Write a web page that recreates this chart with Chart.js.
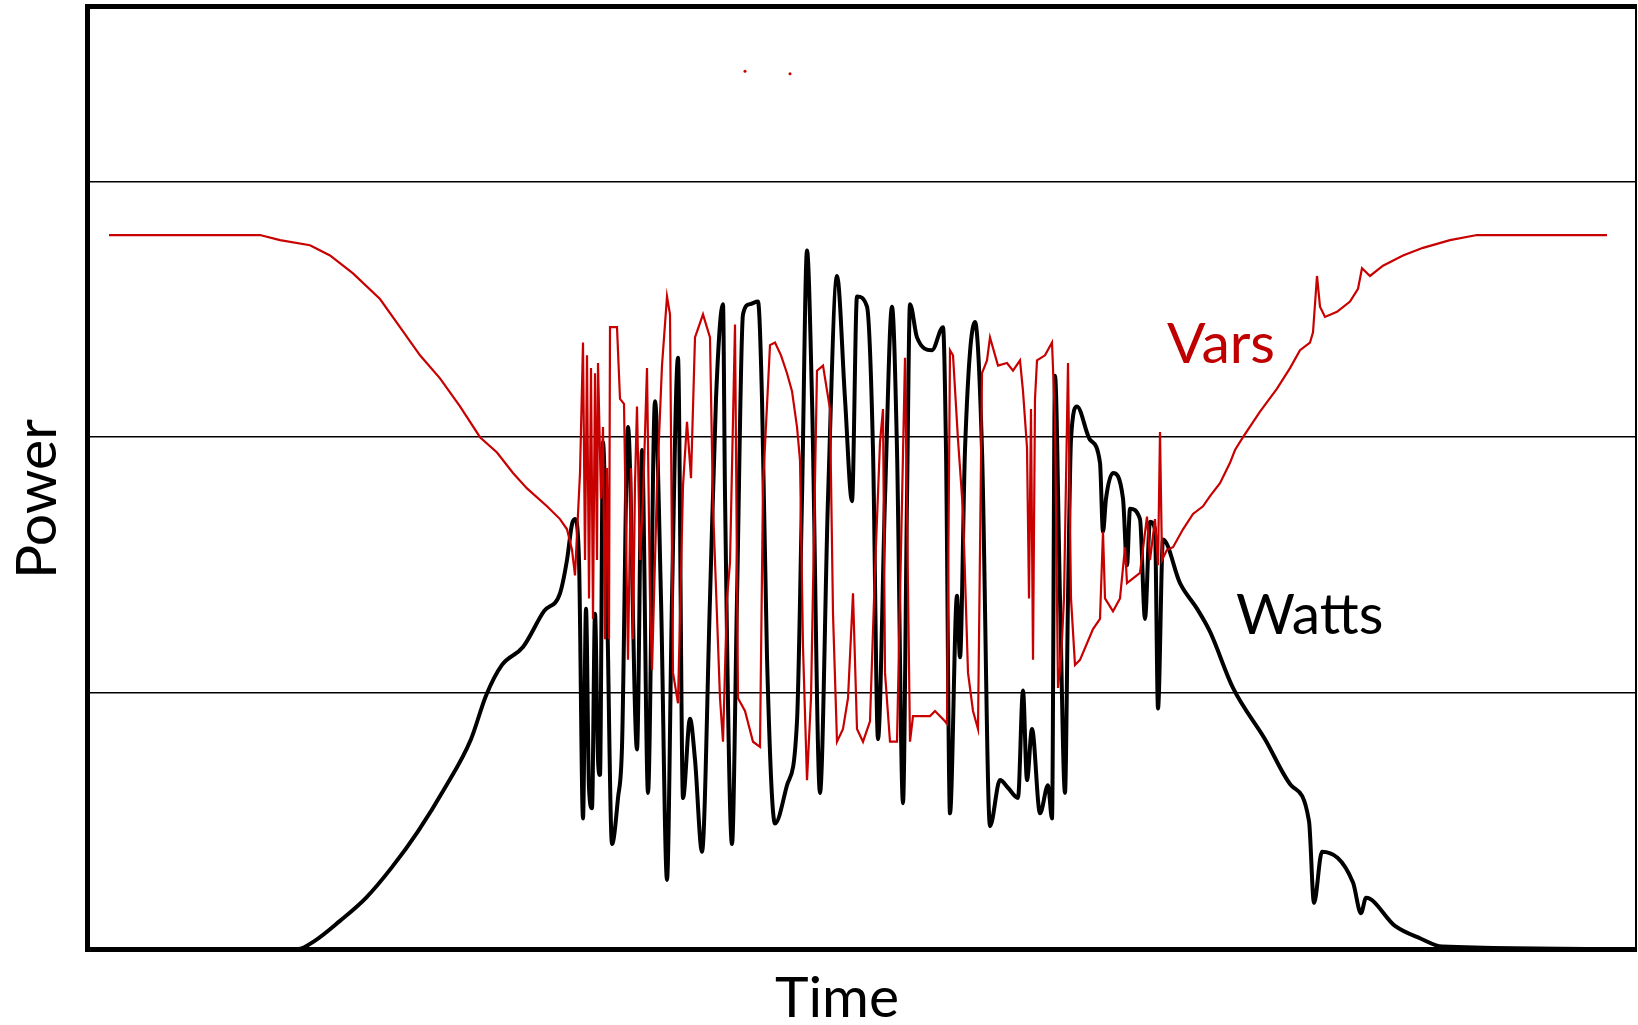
<!DOCTYPE html>
<html lang="en">
<head>
  <meta charset="UTF-8">
  <title>Power vs Time</title>
  <style>
    html, body {
      margin: 0;
      padding: 0;
      background: #fff;
    }
    #wrap {
      width: 1638px;
      height: 1025px;
      position: relative;
    }
  </style>
</head>
<body>

  <div id="wrap"><canvas id="chartCanvas"></canvas></div>

  <script src="https://cdn.jsdelivr.net/npm/chart.js@4"></script>

  <script>
    // Watts (black)
    const wattsTime = [
      0,211,227,253,279,305,331,358,384,399,415,436,457,473,480,485,488,492,
      496,499,502,505,508,511,513,516,520,525,531,535,541,550,555,561,568,574,580,585,591,596,603,608,615,623,629,636,638,645,650,656,663,671,675,680,688,700,710,715,720,725,733,741,750,758,765,770,780,786,791,798,805,810,816,820,823,830,845,856,859,863,870,873,878,888,895,903,913,921,931,936,940,945,953,961,965,
      968,973,978,981,984,990,1003,1013,1016,1019,1026,1036,1040,1043,1053,1058,1063,1068,1071,1076,1093,1110,1123,1146,1178,1204,1222,1227,1235,1266,1274,1279,1308,1334,1355,1549
    ];
    const wattsPower = [
      0,0,0.03,0.11,0.20,0.32,0.46,0.63,0.82,0.99,1.11,1.18,1.32,1.39,1.52,1.66,1.68,1.52,
      0.51,1.33,0.63,0.55,1.31,0.74,0.68,1.98,1.37,0.41,0.59,0.79,2.04,0.78,1.95,0.61,2.14,1.37,0.27,1.37,2.31,0.59,0.90,0.74,0.38,1.37,2.15,2.52,1.78,0.41,1.37,2.48,2.52,2.53,2.15,1.14,0.49,0.64,0.89,1.76,2.73,2.15,0.61,1.76,2.63,2.15,1.75,2.55,2.51,1.95,0.82,1.76,2.51,1.95,0.57,1.76,2.52,2.39,2.34,2.43,1.95,0.53,1.38,1.14,1.95,2.45,1.95,0.48,0.66,0.63,0.59,1.01,0.66,0.86,0.53,0.64,0.51,
      2.24,1.37,0.61,1.37,1.99,2.12,1.99,1.90,1.63,1.76,1.86,1.76,1.50,1.72,1.68,1.29,1.67,1.64,0.94,1.60,1.43,1.33,1.24,1.02,0.82,0.64,0.50,0.18,0.38,0.26,0.14,0.20,0.09,0.04,0.01,0
    ];

    // Vars (red)
    const varsTime = [
      22,151,173,193,223,243,266,293,313,333,353,373,393,410,426,440,460,473,480,485,488,
      493,496,498,500,502,504,506,508,510,511,514,516,518,520,522,523,530,533,537,541,544,546,548,550,553,556,560,563,565,568,570,575,580,583,
      586,591,596,600,604,608,616,623,626,633,636,640,643,648,651,658,666,673,676,683,688,694,700,705,710,713,716,720,724,730,736,743,746,750,756,761,766,770,776,783,788,793,796,798,803,810,818,823,826,843,848,858,860,863,866,871,873,876,881,886,891,895,900,903,911,
      920,926,933,936,940,942,944,946,948,950,958,965,968,971,974,977,981,984,988,993,1006,1013,1016,1018,1026,1033,1038,1040,1053,1060,1063,1068,1071,1073,1075,1080,
      1086,1096,1106,1116,1123,1133,1143,1148,1156,1173,1190,1203,1213,1223,1226,1230,1233,1238,1250,1263,1271,1275,1283,1296,1316,1336,1363,1390,1520
    ];
    const varsPower = [
      2.79,2.79,2.79,2.77,2.75,2.71,2.64,2.54,2.43,2.32,2.23,2.12,2.00,1.94,1.86,1.80,1.73,1.68,1.64,1.56,1.46,
      1.86,2.37,1.52,2.32,1.37,2.27,1.29,2.25,1.52,2.29,1.76,2.04,1.21,1.88,1.21,2.43,2.43,2.15,2.13,1.13,1.88,1.21,1.82,2.12,1.52,1.76,2.27,1.37,1.09,1.52,1.81,2.28,2.55,2.48,
      1.08,0.96,1.81,2.06,1.84,2.39,2.48,2.39,1.73,0.98,0.81,1.37,1.51,2.44,0.98,0.93,0.81,0.79,1.81,2.36,2.37,2.32,2.25,2.18,2.04,1.91,1.18,0.66,0.98,2.26,2.28,2.11,1.31,0.81,0.86,0.98,1.39,0.86,0.81,0.89,1.48,1.98,2.11,1.08,0.81,0.81,2.31,0.81,0.91,0.91,0.93,0.89,0.88,2.34,2.32,1.99,1.88,1.71,1.08,0.93,0.86,2.25,2.30,2.39,2.28,
      2.29,2.26,2.30,2.18,1.96,1.37,2.11,1.13,2.15,2.30,2.32,2.37,2.07,1.02,1.13,1.37,2.29,1.37,1.11,1.13,1.25,1.29,1.63,1.37,1.32,1.37,1.57,1.43,1.47,1.69,1.52,1.68,1.50,2.02,1.52,1.56,
      1.57,1.64,1.70,1.73,1.77,1.82,1.90,1.95,2.00,2.10,2.19,2.27,2.34,2.37,2.41,2.63,2.51,2.47,2.49,2.53,2.58,2.66,2.63,2.67,2.71,2.74,2.77,2.79,2.79
    ];

    // two stray Vars samples near the top
    const varsStrayTime = [658, 703];
    const varsStrayPower = [3.43, 3.42];

    const timeMax = 1549;
    const powerMax = 3.685;

    const varsColor = '#c80000';

    // in-plot series names: [time, power] of the text's left baseline
    const seriesLabels = [
      { text: 'Vars', at: [1080, 2.29], color: '#c00000' },
      { text: 'Watts', at: [1149, 1.23], color: '#000' }
    ];

    const toPoints = (xs, ys) => xs.map((x, i) => ({ x: x, y: ys[i] }));

    // series names inside the plot, and the axis names (which sit a little off-centre in the original)
    const textPlugin = {
      id: 'chartText',
      afterDraw(chart) {
        const { ctx, scales, chartArea } = chart;
        ctx.save();
        ctx.font = '57px Lato';
        ctx.textBaseline = 'alphabetic';

        ctx.textAlign = 'left';
        seriesLabels.forEach(l => {
          ctx.fillStyle = l.color;
          ctx.fillText(l.text, scales.x.getPixelForValue(l.at[0]), scales.y.getPixelForValue(l.at[1]));
        });

        ctx.fillStyle = '#000';
        ctx.textAlign = 'center';
        ctx.fillText('Time', chartArea.left + 750, chartArea.bottom + 68);

        ctx.translate(chartArea.left - 31, chartArea.top + 493);
        ctx.rotate(-Math.PI / 2);
        ctx.fillText('Power', 0, 0);
        ctx.restore();
      }
    };

    function draw() {
      Chart.defaults.font.family = 'Lato';
      Chart.defaults.color = '#000';

      const ctx = document.getElementById('chartCanvas').getContext('2d');

      new Chart(ctx, {
        type: 'line',
        data: {
          datasets: [
            {
              label: 'Vars',
              data: toPoints(varsTime, varsPower),
              borderColor: varsColor,
              borderWidth: 2.2,
              pointRadius: 0,
              tension: 0,
              order: 0
            },
            {
              label: 'Vars (stray)',
              data: toPoints(varsStrayTime, varsStrayPower),
              showLine: false,
              pointRadius: 1.5,
              pointBorderWidth: 0,
              pointBackgroundColor: varsColor,
              order: 0
            },
            {
              label: 'Watts',
              data: toPoints(wattsTime, wattsPower),
              borderColor: '#000',
              borderWidth: 4,
              pointRadius: 0,
              cubicInterpolationMode: 'monotone',
              order: 1
            }
          ]
        },
        options: {
          responsive: true,
          maintainAspectRatio: false,
          animation: false,
          layout: { padding: { left: 87, right: 2, top: 6, bottom: 76 }, autoPadding: false },
          plugins: {
            legend: { display: false },
            tooltip: { enabled: false }
          },
          scales: {
            x: {
              type: 'linear',
              position: 'bottom',
              min: 0,
              max: timeMax,
              ticks: { display: false },
              grid: { display: false, drawTicks: false },
              border: { display: true, color: '#000', width: 5 }
            },
            y: {
              type: 'linear',
              position: 'left',
              min: 0,
              max: powerMax,
              ticks: { display: false, stepSize: 1, includeBounds: false },
              grid: { color: '#000', lineWidth: 1.5, drawTicks: false },
              border: { display: true, color: '#000', width: 5 }
            },
            xTop: {
              type: 'linear',
              position: 'top',
              display: true,
              min: 0,
              max: timeMax,
              ticks: { display: false },
              grid: { display: false, drawTicks: false },
              border: { display: true, color: '#000', width: 5 }
            },
            yRight: {
              type: 'linear',
              position: 'right',
              display: true,
              min: 0,
              max: powerMax,
              ticks: { display: false },
              grid: { display: false, drawTicks: false },
              border: { display: true, color: '#000', width: 2 }
            }
          }
        },
        plugins: [textPlugin]
      });
    }

    document.fonts.load('57px Lato').then(draw, draw);
  </script>

</body>
</html>
